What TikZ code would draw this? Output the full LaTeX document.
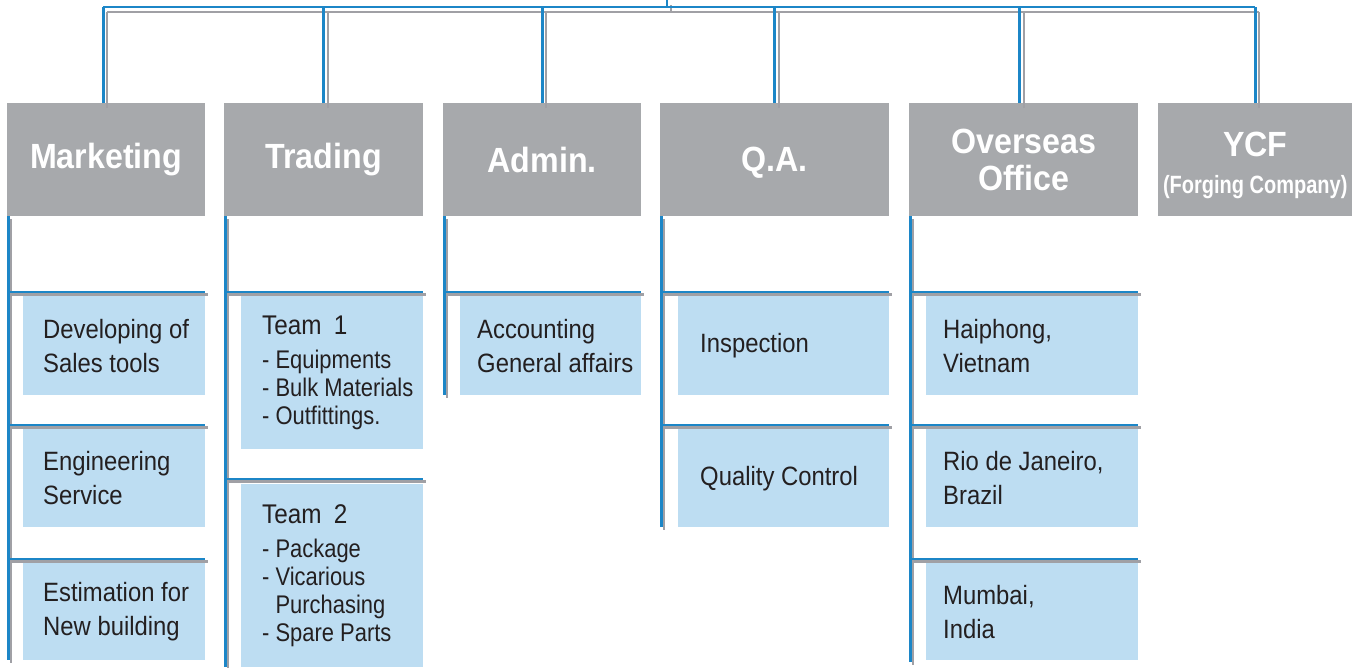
\documentclass[tikz,border=0pt]{standalone}
\usepackage{fontspec}
\setmainfont{Liberation Sans}
\newfontfamily\headfont[FakeStretch=0.92]{Liberation Sans}
\newfontfamily\bodyfont[FakeStretch=0.9]{Liberation Sans}
\newfontfamily\condfont[FakeStretch=0.86]{Liberation Sans}
\newfontfamily\narrowfont[FakeStretch=0.8]{Liberation Sans}
\definecolor{headgray}{RGB}{167,169,172}
\definecolor{subblue}{RGB}{189,221,242}
\definecolor{lineblue}{RGB}{28,134,199}
\definecolor{shadowgray}{RGB}{160,160,165}
\definecolor{txtcol}{RGB}{35,31,32}
\begin{document}
\begin{tikzpicture}[x=1pt,y=1pt,
  head/.style={fill=headgray, text=white, font=\headfont\fontsize{35}{37}\selectfont\bfseries,
    minimum height=113, anchor=north west, inner sep=0, align=center},
  htxt/.style={text=white, font=\headfont\fontsize{35}{37}\selectfont\bfseries, inner sep=0, align=center},
  sbox/.style={fill=subblue, anchor=north west, inner sep=0},
  stxt/.style={anchor=west, align=left, text=txtcol, inner sep=0,
    font=\bodyfont\fontsize{26.5}{34}\selectfont},
  ltxt/.style={anchor=west, align=left, text=txtcol, inner sep=0,
    font=\condfont\fontsize{25.5}{28}\selectfont},
  busline/.style={draw=lineblue, line width=2.8},
  busshadow/.style={draw=shadowgray, line width=2.4, transform canvas={shift={(4pt,-5pt)}}},
  subline/.style={draw=lineblue, line width=2.8},
  subshadow/.style={draw=shadowgray, line width=2.4, transform canvas={shift={(2.5pt,-2.5pt)}}}
]
\useasboundingbox (0,0) rectangle (1357,-667);

% header boxes
\node[head, minimum width=198] (mk) at (7,-103) {Marketing};
\node[head, minimum width=199] (tr) at (224,-103) {Trading};
\node[head, minimum width=198] (ad) at (443,-103) {Admin.};
\node[head, minimum width=229] (qa) at (660,-103) {\raisebox{0pt}[\height][0pt]{Q.A.}};
\node[head, minimum width=229] (ov) at (909,-103) {Overseas\\Office};
\node[head, minimum width=194] (yc) at (1158,-103) {};
\node[htxt] (yct) at ([yshift=-6pt]yc.center) {YCF\\[0pt]{\narrowfont\bfseries\fontsize{25}{28}\selectfont (Forging Company)}};

% sub boxes
\node[sbox, minimum width=182, minimum height=99] (m1) at (23,-296) {};
\node[sbox, minimum width=182, minimum height=98] (m2) at (23,-429) {};
\node[sbox, minimum width=182, minimum height=97] (m3) at (23,-563) {};
\node[sbox, minimum width=182, minimum height=153] (t1) at (241,-296) {};
\node[sbox, minimum width=182, minimum height=183] (t2) at (241,-484) {};
\node[sbox, minimum width=181, minimum height=99] (a1) at (460,-296) {};
\node[sbox, minimum width=211, minimum height=99] (q1) at (678,-296) {};
\node[sbox, minimum width=211, minimum height=98] (q2) at (678,-429) {};
\node[sbox, minimum width=212, minimum height=99] (o1) at (926,-296) {};
\node[sbox, minimum width=212, minimum height=98] (o2) at (926,-429) {};
\node[sbox, minimum width=212, minimum height=97] (o3) at (926,-563) {};

% texts
\node[stxt] (m1t) at ([xshift=20pt]m1.west) {Developing of\\Sales tools};
\node[stxt] (m2t) at ([xshift=20pt]m2.west) {Engineering\\Service};
\node[stxt] (m3t) at ([xshift=20pt]m3.west) {Estimation for\\New building};
\node[ltxt] (t1t) at ([xshift=21pt]t1.west) {{\bodyfont\fontsize{27}{30}\selectfont Team\hspace{0.45em}1}\\[6pt]
  - Equipments\\- Bulk Materials\\- Outfittings.};
\node[ltxt] (t2t) at ([xshift=21pt]t2.west) {{\bodyfont\fontsize{27}{30}\selectfont Team\hspace{0.45em}2}\\[6pt]
  - Package\\- Vicarious\\\phantom{- }Purchasing\\- Spare Parts};
\node[stxt] (a1t) at ([xshift=17pt]a1.west) {Accounting\\General affairs};
\node[stxt] (q1t) at ([xshift=22pt]q1.west) {Inspection};
\node[stxt] (q2t) at ([xshift=22pt]q2.west) {Quality Control};
\node[stxt] (o1t) at ([xshift=17pt]o1.west) {Haiphong,\\Vietnam};
\node[stxt] (o2t) at ([xshift=17pt]o2.west) {Rio de Janeiro,\\Brazil};
\node[stxt] (o3t) at ([xshift=17pt]o3.west) {Mumbai,\\India};

% top bus
\coordinate (root) at (667,0);
\coordinate (bus) at (667,-7);
\def\buspath{(root) -- (bus)
  ([xshift=-3pt]mk.north |- bus) -- (yc.north |- bus)
  ([xshift=-3pt]mk.north) -- ([xshift=-3pt]mk.north |- bus)
  (tr.north) -- (tr.north |- bus)
  (ad.north) -- (ad.north |- bus)
  (qa.north) -- (qa.north |- bus)
  ([xshift=-4pt]ov.north) -- ([xshift=-4pt]ov.north |- bus)
  (yc.north) -- (yc.north |- bus)}
\draw[busshadow] \buspath;
\draw[busline] \buspath;

% sub trees
\coordinate (mkv) at ([xshift=1.3pt]mk.south west);
\coordinate (trv) at ([xshift=1.3pt]tr.south west);
\coordinate (adv) at ([xshift=1.3pt]ad.south west);
\coordinate (qav) at ([xshift=1.3pt]qa.south west);
\coordinate (ovv) at ([xshift=1.3pt]ov.south west);
\def\subpath{
  (mkv) -- (mkv |- m3.south)
  ([yshift=4pt]mkv |- m1.north) -- ([yshift=4pt]m1.north east)
  ([yshift=4pt]mkv |- m2.north) -- ([yshift=4pt]m2.north east)
  ([yshift=4pt]mkv |- m3.north) -- ([yshift=4pt]m3.north east)
  (trv) -- (trv |- t2.south)
  ([yshift=4pt]trv |- t1.north) -- ([yshift=4pt]t1.north east)
  ([yshift=5pt]trv |- t2.north) -- ([yshift=5pt]t2.north east)
  (adv) -- (adv |- a1.south)
  ([yshift=4pt]adv |- a1.north) -- ([yshift=4pt]a1.north east)
  (qav) -- (qav |- q2.south)
  ([yshift=4pt]qav |- q1.north) -- ([yshift=4pt]q1.north east)
  ([yshift=4pt]qav |- q2.north) -- ([yshift=4pt]q2.north east)
  (ovv) -- ([yshift=-2pt]ovv |- o3.south)
  ([yshift=4pt]ovv |- o1.north) -- ([yshift=4pt]o1.north east)
  ([yshift=4pt]ovv |- o2.north) -- ([yshift=4pt]o2.north east)
  ([yshift=4pt]ovv |- o3.north) -- ([yshift=4pt]o3.north east)}
\draw[subshadow] \subpath;
\draw[subline] \subpath;
\end{tikzpicture}
\end{document}
